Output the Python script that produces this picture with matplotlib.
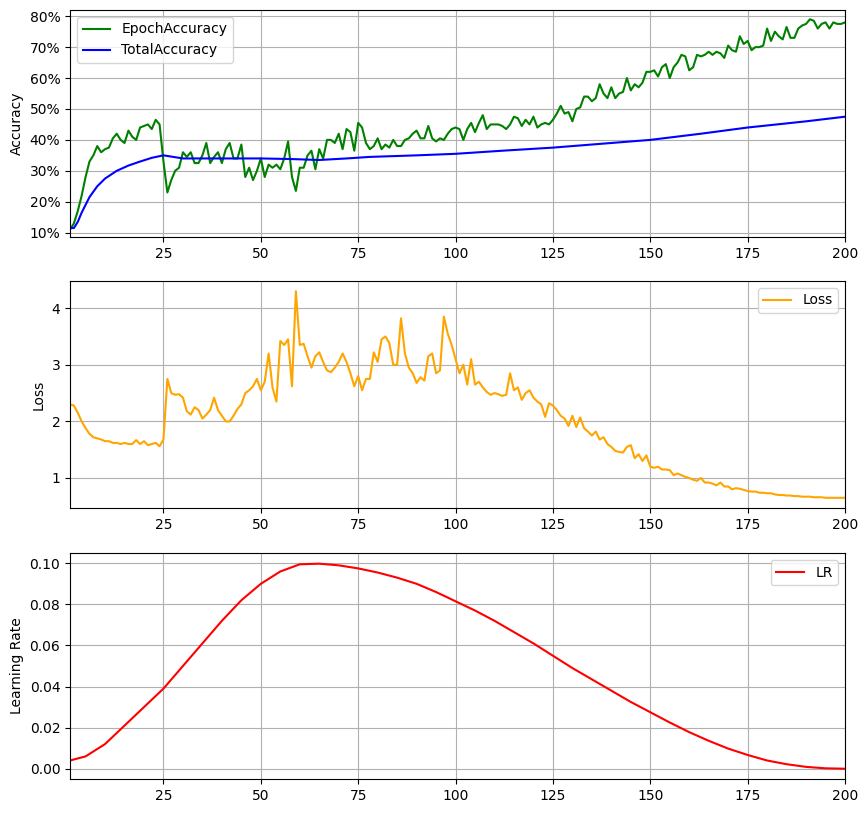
import matplotlib
matplotlib.use("Agg")
import matplotlib.pyplot as plt
from matplotlib.ticker import FuncFormatter

epochs = list(range(1, 201))
epoch_acc = [11,13,17,22,28,33,35,38,36,37,37.5,40.5,42,40,39,43,41,40,44,44.5,
45,43.5,46.5,45,33,23,27,30,31,36,34.5,36,32.5,32.5,35,39,32.5,34.5,36,32.5,
37,39,34,34,38.5,28,31,27,30,34,28,32,31,32,30.5,34,39.5,28,23.5,31,
31,35,36.5,30.5,37,34,40,40,39,42,37,43.5,42.5,36.5,45.5,44,39,37,38,40.5,
37,38.5,37.5,40,38,38,40,40.5,42,43,40.5,40.5,44.5,40.5,39.5,40.5,40,42,43.5,44,
43.5,40,43.5,45.5,42.5,45.5,48,43.5,45,45,45,44.5,43.5,45,47.5,47,44.5,46.5,45,47.5,
44,45,45.5,45,46.5,48.5,51,48.5,49,46,50,50.5,54,54,52.5,53.5,58,55,53.5,57,
53.5,55,55.5,60,56,58,57,58.5,62,62,62.5,60.5,63.5,64.5,60,63.5,65,67.5,67,62.5,
63.5,67.5,67,67.5,68.5,67.5,68.5,68,66.5,70.5,69,68.5,73.5,71,72,69,70,70,70.5,76,
72,75,73.5,72.5,76.5,73,73,76,77,77.5,79,78.5,76,77.5,78,76,78,77.5,77.5,78]
tot_x = [1,2,3,4,5,6,8,10,13,16,19,22,25,28,30,35,40,45,50,58,65,72,78,90,100,112,125,135,150,163,175,190,200]
tot_acc = [11.5,11.5,13.5,16.5,19,21.5,25,27.5,30,31.7,33,34.2,35,34.4,34,34,34,34,34,33.8,33.5,34,34.5,35,35.5,36.5,37.5,38.5,40,42,44,46,47.5]
loss = [2.3,2.28,2.15,2.0,1.88,1.78,1.72,1.7,1.68,1.65,1.65,1.62,1.62,1.6,1.62,1.6,1.6,1.67,1.6,1.65,
1.58,1.6,1.62,1.56,1.68,2.75,2.5,2.47,2.48,2.42,2.18,2.12,2.25,2.2,2.05,2.12,2.2,2.42,2.2,2.1,
2.0,2.0,2.1,2.22,2.3,2.5,2.55,2.62,2.75,2.55,2.7,3.2,2.6,2.35,3.42,3.35,3.45,2.62,4.3,3.35,
3.37,3.15,2.95,3.15,3.22,3.05,2.9,2.87,2.95,3.05,3.2,3.05,2.85,2.62,2.8,2.55,2.75,2.75,3.22,3.05,
3.45,3.5,3.38,3.0,3.0,3.82,3.2,2.95,2.85,2.68,2.78,2.72,3.15,3.2,2.85,2.9,3.85,3.55,3.35,3.1,
2.85,3.0,2.65,3.1,2.65,2.7,2.6,2.52,2.47,2.5,2.48,2.45,2.47,2.85,2.55,2.6,2.38,2.5,2.55,2.42,
2.35,2.3,2.08,2.32,2.28,2.2,2.1,2.05,1.92,2.1,1.9,2.07,1.88,1.82,1.75,1.82,1.68,1.72,1.6,1.55,
1.48,1.46,1.45,1.55,1.58,1.35,1.42,1.3,1.4,1.2,1.18,1.2,1.15,1.15,1.14,1.05,1.08,1.05,1.02,1.0,
0.97,0.95,1.0,0.92,0.92,0.9,0.87,0.92,0.85,0.85,0.8,0.82,0.81,0.79,0.77,0.76,0.76,0.74,0.74,0.73,
0.73,0.71,0.7,0.7,0.69,0.69,0.68,0.68,0.67,0.67,0.67,0.66,0.66,0.66,0.65,0.65,0.65,0.65,0.65,0.65]
lr_x = [1,5,10,15,20,25,30,35,40,45,50,55,60,65,70,75,80,85,90,95,100,105,110,115,120,125,130,135,140,145,150,155,160,165,170,175,180,185,190,195,200]
lr = [0.004,0.006,0.012,0.021,0.03,0.039,0.05,0.061,0.072,0.082,0.09,0.096,0.0995,0.0998,0.099,0.0975,0.0955,0.093,0.09,0.086,0.0815,0.077,0.072,0.0665,0.061,0.055,0.049,0.0435,0.038,0.0325,0.0275,0.0225,0.0178,0.0136,0.0098,0.0067,0.004,0.0022,0.0009,0.0002,0.0]

fig = plt.figure(figsize=(8.68, 8.13), dpi=100)
W, H = 868, 813
def ax_at(top, bottom):
    return fig.add_axes([70/W, 1-bottom/H, 775/W, (bottom-top)/H])
a1 = ax_at(10, 237); a2 = ax_at(281, 508); a3 = ax_at(553, 779)

a1.plot(epochs, epoch_acc, color='green', label='EpochAccuracy')
a1.plot(tot_x, tot_acc, color='blue', label='TotalAccuracy')
a1.set_ylim(8.6, 82)
a1.yaxis.set_major_formatter(FuncFormatter(lambda v, p: f"{v:.0f}%"))
a1.set_ylabel('Accuracy')
a1.legend(loc='upper left')

a2.plot(epochs, loss, color='orange', label='Loss')
a2.set_ylim(0.47, 4.48)
a2.set_ylabel('Loss')
a2.legend(loc='upper right')

a3.plot(lr_x, lr, color='red', label='LR')
a3.set_ylim(-0.005, 0.105)
a3.set_ylabel('Learning Rate')
a3.legend(loc='upper right')

for a in (a1, a2, a3):
    a.set_xlim(1, 200)
    a.set_xticks([25,50,75,100,125,150,175,200])
    a.grid(True)

fig.savefig('out.png', dpi=100)
